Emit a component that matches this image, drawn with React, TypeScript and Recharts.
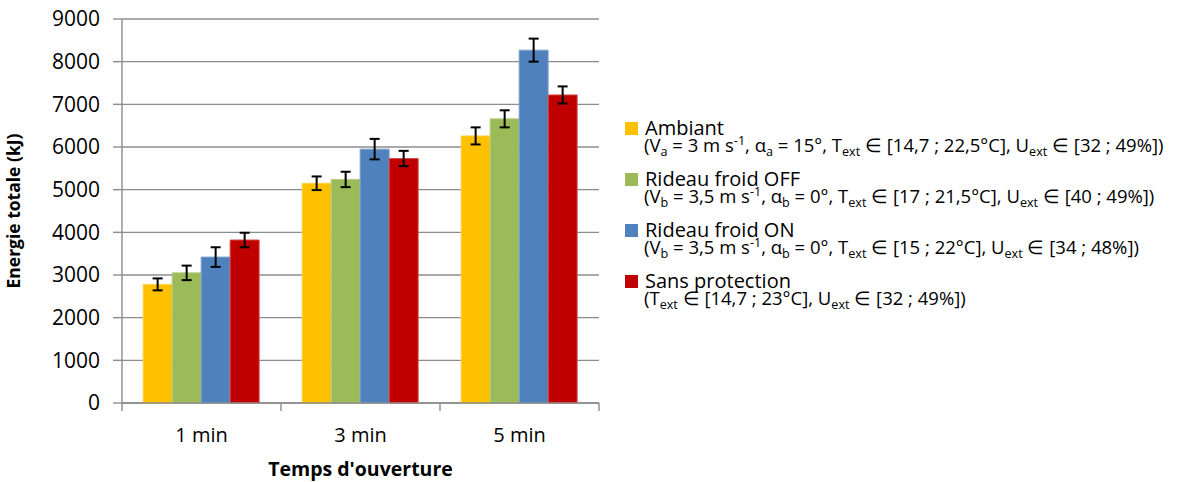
import React from 'react';
import { BarChart, Bar, XAxis, YAxis, CartesianGrid, ErrorBar, Legend } from 'recharts';

const categories = ['1 min', '3 min', '5 min'];
const ambiant = [2780, 5150, 6260];
const ambiantErr = [140, 160, 200];
const rideauOff = [3050, 5240, 6660];
const rideauOffErr = [170, 180, 200];
const rideauOn = [3420, 5950, 8270];
const rideauOnErr = [230, 240, 270];
const sansProt = [3820, 5730, 7220];
const sansProtErr = [170, 180, 200];
const yTicks = [0, 1000, 2000, 3000, 4000, 5000, 6000, 7000, 8000, 9000];
const boundaryTicks = [0, 1, 2, 3];

const seriesNames = ['Ambiant', 'Rideau froid OFF', 'Rideau froid ON', 'Sans protection'];
const seriesColors = ['#FFC000', '#9BBB59', '#4F81BD', '#C00000'];
const seriesBorders = ['#FFD24D', '#B4CC85', '#7EA3D0', '#D24D4D'];
const seriesDescriptions = [
  '(V_{a} = 3 m s^{-1}, α_{a} = 15°, T_{ext} ∈ [14,7 ; 22,5°C], U_{ext} ∈ [32 ; 49%])',
  '(V_{b} = 3,5 m s^{-1}, α_{b} = 0°, T_{ext} ∈ [17 ; 21,5°C], U_{ext} ∈ [40 ; 49%])',
  '(V_{b} = 3,5 m s^{-1}, α_{b} = 0°, T_{ext} ∈ [15 ; 22°C], U_{ext} ∈ [34 ; 48%])',
  '(T_{ext} ∈ [14,7 ; 23°C], U_{ext} ∈ [32 ; 49%])',
];

const data = categories.map((cat, i) => ({
  cat,
  pos: i + 0.5,
  amb: ambiant[i],
  ambErr: ambiantErr[i],
  off: rideauOff[i],
  offErr: rideauOffErr[i],
  on: rideauOn[i],
  onErr: rideauOnErr[i],
  sans: sansProt[i],
  sansErr: sansProtErr[i],
}));

const keys = ['amb', 'off', 'on', 'sans'];

function renderRich(text: string) {
  const parts = text.split(/(_\{[^}]*\}|\^\{[^}]*\})/);
  return parts.map((p, i) => {
    if (p.startsWith('_{')) {
      return (
        <span key={i} style={{ fontSize: '0.68em', verticalAlign: '-0.35em', lineHeight: 0 }}>
          {p.slice(2, -1)}
        </span>
      );
    }
    if (p.startsWith('^{')) {
      return (
        <span key={i} style={{ fontSize: '0.68em', verticalAlign: '0.55em', lineHeight: 0 }}>
          {p.slice(2, -1)}
        </span>
      );
    }
    return <span key={i}>{p}</span>;
  });
}

const renderLegend = () => (
  <div style={{ fontFamily: "'Open Sans', sans-serif", color: '#000' }}>
    {seriesNames.map((name, i) => (
      <div key={name} style={{ marginBottom: 17, height: 34 }}>
        <div style={{ display: 'flex', alignItems: 'center', height: 18 }}>
          <div style={{ width: 13, height: 13, background: seriesColors[i], marginLeft: 13, marginRight: 7, flex: 'none' }} />
          <span style={{ fontSize: 20, lineHeight: '18px', whiteSpace: 'nowrap' }}>{name}</span>
        </div>
        <div style={{ fontSize: 18.5, lineHeight: '16px', height: 16, paddingLeft: 32, whiteSpace: 'nowrap' }}>
          {renderRich(seriesDescriptions[i])}
        </div>
      </div>
    ))}
  </div>
);

export default function App() {
  return (
    <div style={{ position: 'absolute', left: 0, top: 0, width: 1181, height: 482, background: '#fff', fontFamily: "'Open Sans', sans-serif" }}>
      <BarChart
        width={1181}
        height={482}
        data={data}
        margin={{ top: 19, right: 582, bottom: 0, left: 0 }}
        barCategoryGap="13.3%"
        barGap={0}
      >
        <CartesianGrid vertical={false} stroke="#8c8c8c" strokeWidth={1.4} xAxisId="cat" />
        <XAxis
          xAxisId="cat"
          dataKey="cat"
          axisLine={false}
          tickLine={false}
          tickSize={0}
          tickMargin={24}
          height={78}
          tick={{ fontSize: 20, fill: '#000' }}
          label={{ value: "Temps d'ouverture", position: 'insideBottom', offset: 6, style: { fontWeight: 'bold', fontSize: 19.5, fill: '#000' } }}
        />
        <XAxis
          xAxisId={0}
          type="number"
          dataKey="pos"
          domain={[0, 3]}
          ticks={boundaryTicks}
          tickFormatter={() => ''}
          tickSize={8}
          tickLine={{ stroke: '#8c8c8c', strokeWidth: 1.4 }}
          axisLine={{ stroke: '#8c8c8c', strokeWidth: 1.4 }}
          height={1}
          interval={0}
        />
        <YAxis
          domain={[0, 9000]}
          ticks={yTicks}
          interval={0}
          width={122}
          tickSize={9}
          tickMargin={13}
          axisLine={{ stroke: '#8c8c8c', strokeWidth: 1.4 }}
          tickLine={{ stroke: '#8c8c8c', strokeWidth: 1.4 }}
          tick={{ fontSize: 21, fill: '#000' }}
          label={{ value: 'Energie totale (kJ)', angle: -90, position: 'insideLeft', offset: 14, style: { textAnchor: 'middle', fontWeight: 'bold', fontSize: 17.5, fill: '#000' } }}
        />
        {keys.map((k, i) => (
          <Bar
            key={k}
            xAxisId="cat"
            dataKey={k}
            name={seriesNames[i]}
            fill={seriesColors[i]}
            stroke={seriesBorders[i]}
            strokeWidth={1}
            isAnimationActive={false}
          >
            <ErrorBar dataKey={`${k}Err`} width={5} strokeWidth={2} stroke="#000" />
          </Bar>
        ))}
        <Legend
          content={renderLegend}
          layout="horizontal"
          verticalAlign="middle"
          align="center"
          wrapperStyle={{ left: 612, top: 119, width: 569 }}
        />
      </BarChart>
    </div>
  );
}
